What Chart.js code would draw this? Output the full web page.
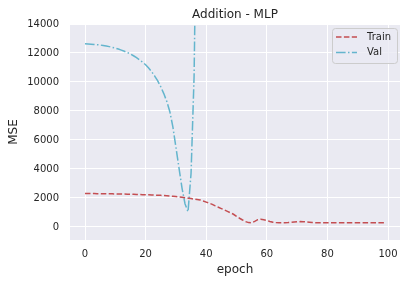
<!DOCTYPE html>
<html>
<head>
<meta charset="utf-8">
<script src="https://cdn.jsdelivr.net/npm/chart.js@4.4.1/dist/chart.umd.min.js"></script>
<style>
html, body { margin: 0; padding: 0; background: #ffffff; }
</style>
</head>
<body>
<canvas id="myChart" width="410" height="284"></canvas>
<script>
/* ---------- DATA ---------- */

const chartTitle = "Addition - MLP";
const seriesNames = ["Train", "Val"];

// MSE per epoch (0..99)
const trainLoss = [
  2310, 2307, 2304, 2301, 2298, 2295, 2292, 2289, 2286, 2283,
  2280, 2275, 2270, 2265, 2260, 2254, 2248, 2242, 2236, 2230,
  2224, 2216, 2208, 2199, 2190, 2180, 2168, 2155, 2140, 2118,
  2095, 2070, 2043, 2014, 1985, 1955, 1925, 1895, 1865, 1790,
  1715, 1640, 1555, 1450, 1360, 1265, 1170, 1075, 975, 875,
  730, 600, 480, 370, 300, 290, 380, 500, 530, 500,
  450, 380, 320, 300, 295, 295, 297, 305, 320, 340,
  360, 368, 362, 345, 325, 305, 295, 290, 290, 288,
  287, 286, 286, 285, 285, 286, 285, 284, 284, 285,
  284, 284, 283, 283, 284, 283, 283, 282, 282, 282
];

// validation blows up after epoch 36 and leaves the plotted range
const valLoss = [
  12630, 12620, 12610, 12590, 12570, 12550, 12520, 12480, 12440, 12390,
  12340, 12270, 12200, 12120, 12030, 11930, 11810, 11680, 11530, 11370,
  11190, 10970, 10710, 10410, 10070, 9670, 9200, 8650, 7950, 6900,
  5500, 4100, 2700, 1600, 1050, 3700, 10400, 26000, 41000, 57000,
  68000, 74000, 83000, 79000, 91000, 88000, 97000, 102000, 99000, 110000,
  107000, 115000, 121000, 118000, 126000, 131000, 128000, 136000, 140000, 137000,
  145000, 149000, 146000, 152000, 158000, 155000, 161000, 166000, 163000, 170000,
  174000, 171000, 178000, 183000, 180000, 187000, 191000, 188000, 195000, 199000,
  196000, 203000, 207000, 204000, 211000, 215000, 212000, 219000, 223000, 220000,
  227000, 231000, 228000, 235000, 239000, 236000, 243000, 247000, 244000, 250000
];

const xTicks = [0, 20, 40, 60, 80, 100];
const yTicks = [0, 2000, 4000, 6000, 8000, 10000, 12000, 14000];

/* ---------- STYLE ---------- */

const textColor = "#262626";
const trainColor = "#c44e52";
const valColor = "#64b5cd";
const trainDash = [5.5, 2.4];
const valDash = [9.6, 2.4, 1.5, 2.4];
const fontFamily = "'DejaVu Sans', sans-serif";

const toPoints = arr => arr.map((v, i) => ({ x: i, y: v }));

/* plot background */
const plotBackground = {
  id: "plotBackground",
  beforeDraw(chart) {
    const { ctx, chartArea: a } = chart;
    ctx.save();
    ctx.fillStyle = "#eaeaf2";
    ctx.fillRect(a.left, a.top, a.right - a.left, a.bottom - a.top);
    ctx.restore();
  }
};

/* title + legend box, drawn matplotlib style */
const titleAndLegend = {
  id: "titleAndLegend",
  afterDraw(chart) {
    const { ctx, chartArea: a } = chart;
    ctx.save();
    ctx.fillStyle = textColor;
    ctx.font = "12px " + fontFamily;
    ctx.textAlign = "center";
    ctx.textBaseline = "alphabetic";
    ctx.fillText(chartTitle, (a.left + a.right) / 2, 18);

    // legend frame
    const bx = 332.5, by = 28.5, bw = 65, bh = 35;
    ctx.beginPath();
    ctx.roundRect(bx, by, bw, bh, 3);
    ctx.fillStyle = "rgba(234,234,242,0.8)";
    ctx.fill();
    ctx.strokeStyle = "#cccccc";
    ctx.lineWidth = 1;
    ctx.stroke();

    const items = [
      { y: 37, color: trainColor, dash: trainDash },
      { y: 52.5, color: valColor, dash: valDash }
    ];
    items.forEach((it, i) => {
      ctx.beginPath();
      ctx.setLineDash(it.dash);
      ctx.strokeStyle = it.color;
      ctx.lineWidth = 1.5;
      ctx.moveTo(336, it.y);
      ctx.lineTo(357, it.y);
      ctx.stroke();
      ctx.setLineDash([]);
      ctx.fillStyle = textColor;
      ctx.font = "10px " + fontFamily;
      ctx.textAlign = "left";
      ctx.textBaseline = "middle";
      ctx.fillText(seriesNames[i], 367, it.y);
    });
    ctx.restore();
  }
};

/* ---------- CHART ---------- */

const ctx = document.getElementById("myChart").getContext("2d");

new Chart(ctx, {
  type: "line",
  data: {
    datasets: [
      {
        label: seriesNames[0],
        data: toPoints(trainLoss),
        borderColor: trainColor,
        borderDash: trainDash,
        borderWidth: 1.5,
        pointRadius: 0,
        fill: false,
        tension: 0
      },
      {
        label: seriesNames[1],
        data: toPoints(valLoss),
        borderColor: valColor,
        borderDash: valDash,
        borderWidth: 1.5,
        pointRadius: 0,
        fill: false,
        tension: 0
      }
    ]
  },
  options: {
    responsive: false,
    animation: false,
    devicePixelRatio: 1,
    layout: { padding: { top: 24, right: 10, left: 0, bottom: 0 } },
    plugins: {
      legend: { display: false },
      tooltip: { enabled: false },
      title: { display: false }
    },
    scales: {
      x: {
        type: "linear",
        min: -4.95,
        max: 103.95,
        afterBuildTicks: s => { s.ticks = xTicks.map(v => ({ value: v })); },
        afterFit: s => { s.height = 44; },
        grid: { color: "#ffffff", lineWidth: 1, drawTicks: false },
        border: { display: false },
        ticks: {
          color: textColor,
          font: { family: fontFamily, size: 10 },
          padding: 8,
          maxRotation: 0,
          callback: v => String(v)
        },
        title: {
          display: true,
          text: "epoch",
          color: textColor,
          font: { family: fontFamily, size: 12 },
          padding: { top: 0, bottom: 7 }
        }
      },
      y: {
        type: "linear",
        min: -900,
        max: 14000,
        afterBuildTicks: s => { s.ticks = yTicks.map(v => ({ value: v })); },
        afterFit: s => { s.width = 70; },
        grid: { color: "#ffffff", lineWidth: 1, drawTicks: false },
        border: { display: false },
        ticks: {
          color: textColor,
          font: { family: fontFamily, size: 10 },
          padding: 11,
          callback: v => String(v)
        },
        title: {
          display: true,
          text: "MSE",
          color: textColor,
          font: { family: fontFamily, size: 12 },
          padding: { top: 7, bottom: 0 }
        }
      }
    }
  },
  plugins: [plotBackground, titleAndLegend]
});
</script>
</body>
</html>
